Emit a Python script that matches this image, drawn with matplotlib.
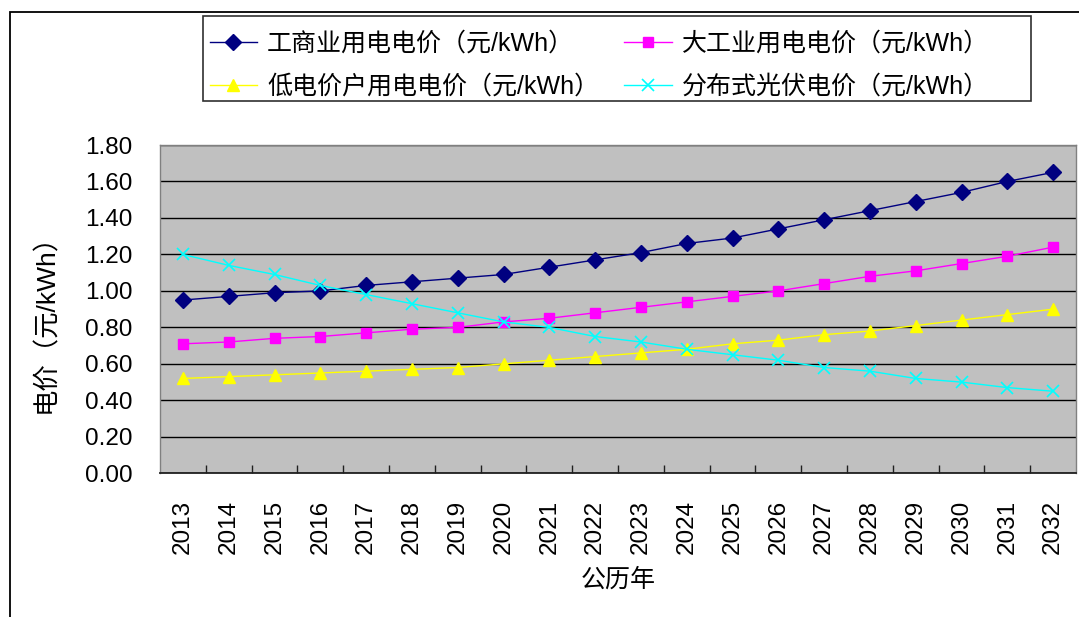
import matplotlib.pyplot as plt
from matplotlib.patches import Rectangle
from matplotlib.ticker import MultipleLocator, FixedLocator

plt.rcParams['font.family'] = ['Liberation Sans', 'Noto Sans CJK SC', 'DejaVu Sans']

years = list(range(2013, 2033))
commercial = [0.95, 0.97, 0.99, 1.00, 1.03, 1.05, 1.07, 1.09, 1.13, 1.17,
              1.21, 1.26, 1.29, 1.34, 1.39, 1.44, 1.49, 1.54, 1.60, 1.65]
industrial = [0.71, 0.72, 0.74, 0.75, 0.77, 0.79, 0.80, 0.83, 0.85, 0.88,
              0.91, 0.94, 0.97, 1.00, 1.04, 1.08, 1.11, 1.15, 1.19, 1.24]
low_price = [0.52, 0.53, 0.54, 0.55, 0.56, 0.57, 0.58, 0.60, 0.62, 0.64,
             0.66, 0.68, 0.71, 0.73, 0.76, 0.78, 0.81, 0.84, 0.87, 0.90]
pv = [1.20, 1.14, 1.09, 1.03, 0.98, 0.93, 0.88, 0.83, 0.80, 0.75,
      0.72, 0.68, 0.65, 0.62, 0.58, 0.56, 0.52, 0.50, 0.47, 0.45]

labels = ['工商业用电电价（元/kWh）', '大工业用电电价（元/kWh）',
          '低电价户用电电价（元/kWh）', '分布式光伏电价（元/kWh）']

W, H = 1079, 617
fig = plt.figure(figsize=(W / 100, H / 100), dpi=100)
ax = fig.add_axes([160 / W, 1 - 473.3 / H, 916 / W, 328.3 / H])
ax.set_facecolor('#C0C0C0')

x = list(range(len(years)))
h1, = ax.plot(x, commercial, color='#000080', marker='D', ms=8, lw=1)
h2, = ax.plot(x, industrial, color='#FF00FF', marker='s', ms=7.5, lw=1)
h3, = ax.plot(x, low_price, color='#FFFF00', marker='^', ms=9, lw=1)
h4, = ax.plot(x, pv, color='#00FFFF', marker='x', ms=9, mew=1.2, lw=1)

ax.set_xlim(-0.5, len(years) - 0.5)
ax.set_ylim(0, 1.8)
ax.yaxis.set_major_locator(MultipleLocator(0.2))
ax.set_yticklabels([f'{v:.2f}' for v in ax.get_yticks()])
ax.yaxis.grid(True, color='black', lw=1)
ax.set_axisbelow(True)

ax.set_xticks(x)
ax.set_xticklabels([str(y) for y in years], rotation=90)
ax.xaxis.set_minor_locator(FixedLocator([i + 0.5 for i in x[:-1]]))
ax.tick_params(axis='x', which='major', length=0, pad=19, labelsize=17.5)
ax.tick_params(axis='x', which='minor', length=6, width=1, direction='in',
               color='#202020')
ax.tick_params(axis='y', length=0, pad=20, labelsize=17.5)

for s in ax.spines.values():
    s.set_color('#808080')
    s.set_linewidth(1)
ax.spines['bottom'].set_color('#202020')
ax.spines['bottom'].set_linewidth(1.3)

fig.text(46 / W, 1 - 317 / H, '电价（元/kWh）', rotation=90, fontsize=19,
         ha='center', va='center')
fig.text(618 / W, 1 - 580 / H, '公历年', fontsize=18, ha='center', va='center')

fig.legend([h1, h3, h2, h4], [labels[0], labels[2], labels[1], labels[3]],
           ncol=2, frameon=False,
           loc='upper left', bbox_to_anchor=(192 / W, 1 - 14 / H),
           fontsize=18, handlelength=1.9, handletextpad=0.4,
           columnspacing=1.0, labelspacing=0.75, borderpad=0.2)

fig.add_artist(Rectangle((203 / W, 1 - 101 / H), 828 / W, 85 / H,
                         transform=fig.transFigure, fill=False,
                         edgecolor='#303030', lw=1.2))
fig.add_artist(Rectangle((10 / W, -0.1), 1.2, 1 - 12 / H + 0.1,
                         transform=fig.transFigure, fill=False,
                         edgecolor='black', lw=1.3))

fig.savefig('out.png', dpi=100)
